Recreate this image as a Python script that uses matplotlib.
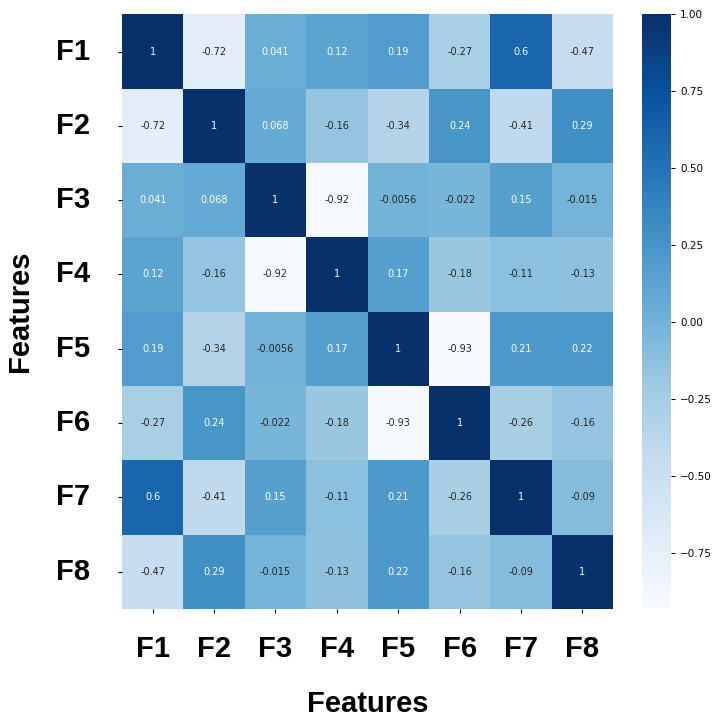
import numpy as np
import matplotlib
matplotlib.use("Agg")
import matplotlib.pyplot as plt
import seaborn as sns

features = ["F1", "F2", "F3", "F4", "F5", "F6", "F7", "F8"]
row_f1 = [1, -0.72, 0.041, 0.12, 0.19, -0.27, 0.6, -0.47]
row_f2 = [-0.72, 1, 0.068, -0.16, -0.34, 0.24, -0.41, 0.29]
row_f3 = [0.041, 0.068, 1, -0.92, -0.0056, -0.022, 0.15, -0.015]
row_f4 = [0.12, -0.16, -0.92, 1, 0.17, -0.18, -0.11, -0.13]
row_f5 = [0.19, -0.34, -0.0056, 0.17, 1, -0.93, 0.21, 0.22]
row_f6 = [-0.27, 0.24, -0.022, -0.18, -0.93, 1, -0.26, -0.16]
row_f7 = [0.6, -0.41, 0.15, -0.11, 0.21, -0.26, 1, -0.09]
row_f8 = [-0.47, 0.29, -0.015, -0.13, 0.22, -0.16, -0.09, 1]

corr = np.array([row_f1, row_f2, row_f3, row_f4, row_f5, row_f6, row_f7, row_f8])

label_font = ["Liberation Sans Narrow", "Liberation Sans", "DejaVu Sans"]

fig = plt.figure(figsize=(7.13, 7.18), dpi=100)
ax = fig.add_axes([0.171, 0.152, 0.689, 0.828])
cax = fig.add_axes([0.900, 0.153, 0.041, 0.827])

sns.heatmap(corr, annot=True, cmap="Blues", ax=ax, cbar_ax=cax,
            annot_kws={"size": 7},
            xticklabels=features, yticklabels=features)

ax.tick_params(axis="x", length=3, width=0.8, pad=16)
ax.tick_params(axis="y", length=3, width=0.8, pad=20)
for lab in ax.get_xticklabels() + ax.get_yticklabels():
    lab.set_fontsize(21)
    lab.set_fontweight("bold")
    lab.set_family(label_font)
ax.set_yticklabels(features, rotation=0)
ax.set_xlabel("Features", fontsize=21, fontweight="bold", family=label_font, labelpad=19)
ax.set_ylabel("Features", fontsize=21, fontweight="bold", family=label_font, labelpad=16)

cax.tick_params(labelsize=7.5, length=3)

fig.savefig("out.png", dpi=100)
